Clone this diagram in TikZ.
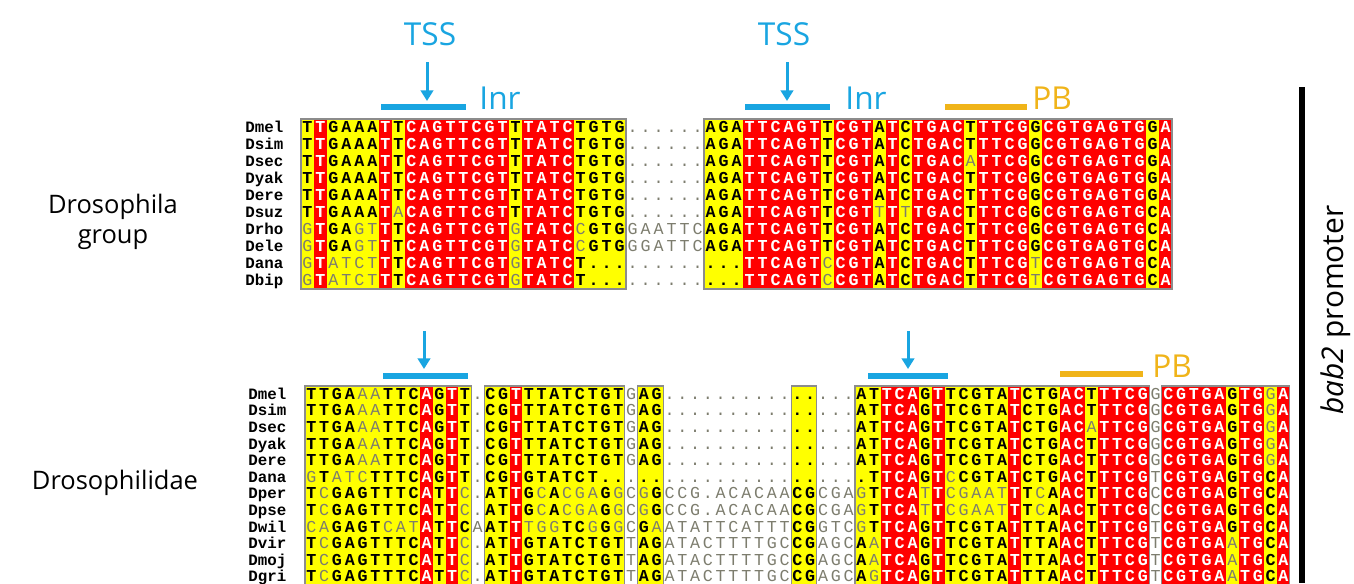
\documentclass[tikz,border=0pt]{standalone}
\usepackage{fontspec}
\setmainfont{Open Sans}
\newfontfamily\resfont{Liberation Mono}
\usetikzlibrary{arrows.meta}

\definecolor{alnred}{RGB}{255,0,0}
\definecolor{alnyellow}{RGB}{255,255,0}
\definecolor{alngray}{RGB}{125,125,110}
\definecolor{tssblue}{RGB}{25,165,225}
\definecolor{pborange}{RGB}{240,180,25}

\makeatletter
\let\resloop\@tfor
\makeatother

\newcount\colno

% geometry of the block in hand
\def\alnx{301}\def\alnw{13}\def\alnlx{245}

% column shading: #1 top, #2 bottom, #3 one letter per column (R, Y or W)
\newcommand\alncols[3]{%
  \colno=0
  \resloop\colch:=#3\do{%
    \advance\colno by 1
    \expandafter\let\csname alnbg\the\colno\endcsname\colch
    \if R\colch\fill[alnred] ({\alnx+(\the\colno-1)*\alnw},#1) rectangle ({\alnx+\the\colno*\alnw},#2);\fi
    \if Y\colch\fill[alnyellow] ({\alnx+(\the\colno-1)*\alnw},#1) rectangle ({\alnx+\the\colno*\alnw},#2);\fi
  }}

% frame round columns #1..#2
\newcommand\alnbox[4]{\draw[alnframe] ({\alnx+(#1-1)*\alnw},#3) rectangle ({\alnx+#2*\alnw},#4);}

% one sequence: #1 node prefix, #2 y, #3 species, #4 residues (lower case = faint)
\newcommand\alnrow[4]{%
  \node[spname] (#1) at (\alnlx,{#2+5}) {#3};
  \colno=0
  \resloop\resch:=#4\do{%
    \advance\colno by 1
    \edef\cellbg{\csname alnbg\the\colno\endcsname}%
    \ifnum\expandafter`\resch>96 \def\cellsty{resfaint}\else\def\cellsty{resbold}\fi
    \if R\cellbg\def\cellsty{resred}\fi
    \if W\cellbg\def\cellsty{resfaint}\fi
    \node[res,\cellsty] (#1-\the\colno) at ({\alnx+(\the\colno-0.5)*\alnw},{#2+5}) {\expandafter\uppercase\expandafter{\resch}};
  }}

\begin{document}
\begin{tikzpicture}[x=0.02cm, y=-0.02cm,
  res/.style={anchor=base, inner sep=0pt},
  resbold/.style={font=\resfont\bfseries\fontsize{9.5}{10}\selectfont, text=black},
  resfaint/.style={font=\resfont\fontsize{9.5}{10}\selectfont, text=alngray},
  resred/.style={font=\resfont\bfseries\fontsize{9.5}{10}\selectfont, text=white},
  spname/.style={anchor=base west, inner sep=0pt, font=\resfont\bfseries\fontsize{9}{10}\selectfont},
  alnframe/.style={draw=black!45, line width=0.6pt},
  grp/.style={font=\fontsize{14.5}{16}\selectfont},
  tsslbl/.style={text=tssblue, font=\fontsize{18}{20}\selectfont},
  pblbl/.style={text=pborange, font=\fontsize{18}{20}\selectfont},
  tssarrow/.style={tssblue, line width=1.7pt, -{Triangle[length=6pt,width=7pt]}},
  inrbar/.style={tssblue, line width=3.4pt},
  pbbar/.style={pborange, line width=3.4pt}]
\fill[white] (0,0) rectangle (1354,583);
\useasboundingbox (0,0) rectangle (1354,583);

% Drosophila group
\def\alnx{301}\def\alnw{13}\def\alnlx{245}
\alncols{119}{289}{YRYYYYRYRRRRRRRRYRRRRYYYYWWWWWWYYYRRRRRRYRRRYRYRRRRYRRRRYRRRRRRRRYR}
\alnbox{1}{25}{119}{289}
\alnbox{32}{67}{119}{289}
\alnrow{dmel}{127.5}{Dmel}{TTGAAATTCAGTTCGTTTATCTGTG......AGATTCAGTTCGTATCTGACTTTCGGCGTGAGTGGA}
\alnrow{dsim}{144.5}{Dsim}{TTGAAATTCAGTTCGTTTATCTGTG......AGATTCAGTTCGTATCTGACTTTCGGCGTGAGTGGA}
\alnrow{dsec}{161.5}{Dsec}{TTGAAATTCAGTTCGTTTATCTGTG......AGATTCAGTTCGTATCTGACaTTCGGCGTGAGTGGA}
\alnrow{dyak}{178.5}{Dyak}{TTGAAATTCAGTTCGTTTATCTGTG......AGATTCAGTTCGTATCTGACTTTCGGCGTGAGTGGA}
\alnrow{dere}{195.5}{Dere}{TTGAAATTCAGTTCGTTTATCTGTG......AGATTCAGTTCGTATCTGACTTTCGGCGTGAGTGGA}
\alnrow{dsuz}{212.5}{Dsuz}{TTGAAATaCAGTTCGTTTATCTGTG......AGATTCAGTTCGTtTtTGACTTTCGGCGTGAGTGCA}
\alnrow{drho}{229.5}{Drho}{gTGAgtTTCAGTTCGTgTATCcGTGGAATTCAGATTCAGTTCGTATCTGACTTTCGGCGTGAGTGCA}
\alnrow{dele}{246.5}{Dele}{gTGAgtTTCAGTTCGTgTATCcGTGGGATTCAGATTCAGTTCGTATCTGACTTTCGGCGTGAGTGCA}
\alnrow{dana}{263.5}{Dana}{gTatctTTCAGTTCGTgTATCT............TTCAGTcCGTATCTGACTTTCGtCGTGAGTGCA}
\alnrow{dbip}{280.5}{Dbip}{gTatctTTCAGTTCGTgTATCT............TTCAGTcCGTATCTGACTTTCGtCGTGAGTGCA}

% Drosophilidae
\def\alnx{305}\def\alnw{12.79}\def\alnlx{248}
\alncols{386}{585}{YYYYYYYYYRYRYWYYRYYYYYYYYWYYWWWWWWWWWWYYWWWYYRRRYRYYYYYRYYYRRYRRRRWRRRRRYRRYR}
\alnbox{1}{13}{386}{585}
\alnbox{15}{25}{386}{585}
\alnbox{27}{28}{386}{585}
\alnbox{39}{40}{386}{585}
\alnbox{44}{66}{386}{585}
\alnbox{68}{77}{386}{585}
\alnrow{bmel}{394.3}{Dmel}{TTGAaaTTCAGTT.CGTTTATCTGTgAG...............ATTCAGTTCGTATCTGACTTTCGGCGTGAGTGgA}
\alnrow{bsim}{410.9}{Dsim}{TTGAaaTTCAGTT.CGTTTATCTGTgAG...............ATTCAGTTCGTATCTGACTTTCGGCGTGAGTGgA}
\alnrow{bsec}{427.5}{Dsec}{TTGAaaTTCAGTT.CGTTTATCTGTgAG...............ATTCAGTTCGTATCTGACaTTCGGCGTGAGTGgA}
\alnrow{byak}{444.1}{Dyak}{TTGAaaTTCAGTT.CGTTTATCTGTgAG...............ATTCAGTTCGTATCTGACTTTCGGCGTGAGTGgA}
\alnrow{bere}{460.7}{Dere}{TTGAaaTTCAGTT.CGTTTATCTGTgAG...............ATTCAGTTCGTATCTGACTTTCGGCGTGAGTGgA}
\alnrow{bana}{477.3}{Dana}{gTatcTTTCAGTT.CGTGTATCT.....................TTCAGTcCGTATCTGACTTTCGTCGTGAGTGCA}
\alnrow{bper}{493.9}{Dper}{TcGAGTTTCATTc.ATTGcAcgaGgcgGCCG.ACACAACGCGAgTTCAtTcgaatTTcAACTTTCGCCGTGAGTGCA}
\alnrow{bpse}{510.5}{Dpse}{TcGAGTTTCATTc.ATTGcAcgaGgcgGCCG.ACACAACGCGAgTTCAtTcgaatTTcAACTTTCGCCGTGAGTGCA}
\alnrow{bwil}{527.1}{Dwil}{caGAGTcatATTCaATTtggTCgGgcGaATATTCATTTCGGTCgTTCAGTTCGTATTTAACTTTCGTCGTGAGTGCA}
\alnrow{bvir}{543.7}{Dvir}{TcGAGTTTCATTc.ATTGTATCTGTtAGATACTTTTGCCGAGCAaTCAGTTCGTATTTAACTTTCGTCGTGAaTGCA}
\alnrow{bmoj}{560.3}{Dmoj}{TcGAGTTTCATTc.ATTGTATCTGTtAGATACTTTTGCCGAGCAaTCAGTTCGTATTTAACTTTCGTCGTGAaTGCA}
\alnrow{bgri}{576.9}{Dgri}{TcGAGTTTCATTc.ATTGTATCTGTtAGATACTTTTGCCGAGCAgTCAGTTCGTATTTAACTTTCGTCGTGAaTGCA}

% group names
\node[grp] (grpa) at (113,207) {Drosophila};
\node[grp] (grpb) at (113,240) {group};
\node[grp] (grpc) at (115,483) {Drosophilidae};

% start sites and elements, upper block
\node[tsslbl] (tss1) at (430,34) {TSS};
\node[tsslbl] (tss2) at (784,34) {TSS};
\coordinate (tss1a) at (427,62);
\coordinate (tss1b) at (427,101);
\coordinate (tss2a) at (787,62);
\coordinate (tss2b) at (787,101);
\draw[tssarrow] (tss1a) -- (tss1b);
\draw[tssarrow] (tss2a) -- (tss2b);
\draw[inrbar] (381,107) -- (466,107);
\draw[inrbar] (745,107) -- (830,107);
\node[tsslbl] (inr1) at (500,98) {Inr};
\node[tsslbl] (inr2) at (866,98) {Inr};
\draw[pbbar] (945,107) -- (1027,107);
\node[pblbl] (pb1) at (1052,98) {PB};

% lower block
\coordinate (tss3a) at (424,331);
\coordinate (tss3b) at (424,369);
\coordinate (tss4a) at (908,331);
\coordinate (tss4b) at (908,369);
\draw[tssarrow] (tss3a) -- (tss3b);
\draw[tssarrow] (tss4a) -- (tss4b);
\draw[inrbar] (383,376) -- (468,376);
\draw[inrbar] (868,376) -- (948,376);
\draw[pbbar] (1060,374) -- (1143,374);
\node[pblbl] (pb2) at (1172,366) {PB};

% promoter
\draw[line width=2.9pt] (1302,87) -- (1302,583);
\node[rotate=90, font=\fontsize{17}{19}\selectfont] (promo) at (1336,310) {\textit{bab2} promoter};
\end{tikzpicture}
\end{document}
